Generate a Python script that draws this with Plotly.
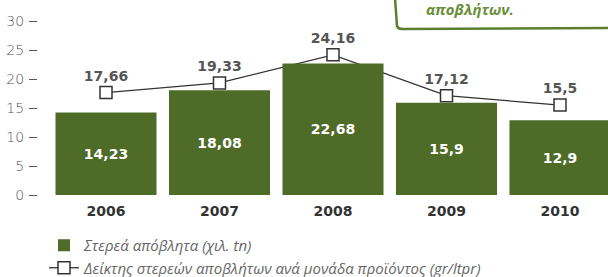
import plotly.graph_objects as go

years = ["2006", "2007", "2008", "2009", "2010"]
solid_waste = [14.23, 18.08, 22.68, 15.9, 12.9]
waste_index = [17.66, 19.33, 24.16, 17.12, 15.5]
y_ticks = [0, 5, 10, 15, 20, 25, 30]

bar_name = "Στερεά απόβλητα (χιλ. tn)"
line_name = "Δείκτης στερεών αποβλήτων ανά μονάδα προϊόντος (gr/ltpr)"
box_text = "αποβλήτων."

GREEN = "#4e6c27"
W, H = 608, 277
L, R, T, B = 38, 0, 0, 82
PW, PH = W - L - R, H - T - B


def fmt(v):
    return ("%g" % v).replace(".", ",")


def px_x(px):
    return (px - L) / PW


def px_y(py):
    return (H - B - py) / PH


fig = go.Figure()
fig.add_trace(go.Bar(
    x=years, y=solid_waste, name=bar_name, yaxis="y2",
    marker=dict(color=GREEN, line=dict(width=0)),
    text=[fmt(v) for v in solid_waste], textposition="inside",
    insidetextanchor="middle", textangle=0, constraintext="none",
    textfont=dict(family="DejaVu Sans", size=14, color="white", weight="bold"),
))
fig.add_trace(go.Scatter(
    x=years, y=waste_index, name=line_name, mode="lines+markers+text",
    line=dict(color="#333333", width=1.3),
    marker=dict(symbol="square", size=12, color="white",
                line=dict(color="#333333", width=1.5)),
    text=[fmt(v) for v in waste_index], textposition="top center",
    textfont=dict(family="DejaVu Sans", size=14, color="#555555", weight="bold"),
))

yr = [0, PH / 5.8]
x0 = -(106 - L) / 113.5
fig.update_layout(
    width=W, height=H,
    margin=dict(l=L, r=R, t=T, b=B, pad=0, autoexpand=False),
    paper_bgcolor="white", plot_bgcolor="white",
    bargap=0.11, showlegend=True,
    separators=",.",
    xaxis=dict(type="category", range=[x0, x0 + PW / 113.5], automargin=False,
               showgrid=False, zeroline=False, showline=False, ticks="",
               tickfont=dict(family="DejaVu Sans", size=14, color="#333333", weight="bold"),
               ticklabelstandoff=6),
    yaxis=dict(range=yr, tickvals=y_ticks, showgrid=False, zeroline=False, showline=False,
               automargin=False,
               ticks="outside", ticklen=8, tickwidth=1.2, tickcolor="#555555",
               tickfont=dict(family="DejaVu Sans", size=14, color="#555555", weight=300),
               ticklabelstandoff=2),
    yaxis2=dict(range=yr, overlaying="y", visible=False, showgrid=False, automargin=False),
    legend=dict(x=px_x(44), xanchor="left", y=px_y(229), yanchor="top",
                bgcolor="rgba(0,0,0,0)", tracegroupgap=0,
                font=dict(family="Open Sans", size=15, color="#666666", style="italic")),
)

fig.add_shape(type="path", xref="paper", yref="paper",
              path="M %f,%f L %f,%f Q %f,%f %f,%f L %f,%f" % (
                  px_x(395), px_y(-2), px_x(397), px_y(26),
                  px_x(398), px_y(29), px_x(402), px_y(29),
                  px_x(610), px_y(28)),
              line=dict(color="#5b7f2e", width=2.5))
fig.add_annotation(text=box_text, xref="paper", yref="paper",
                   x=px_x(516), y=px_y(21), xanchor="right", yanchor="bottom",
                   showarrow=False,
                   font=dict(family="Open Sans", size=15, color="#6a8f3a",
                             style="italic", weight="bold"))

fig.write_html("out.html", config={"displayModeBar": False},
               post_script="document.body.style.margin='0';document.body.style.overflow='hidden';")
